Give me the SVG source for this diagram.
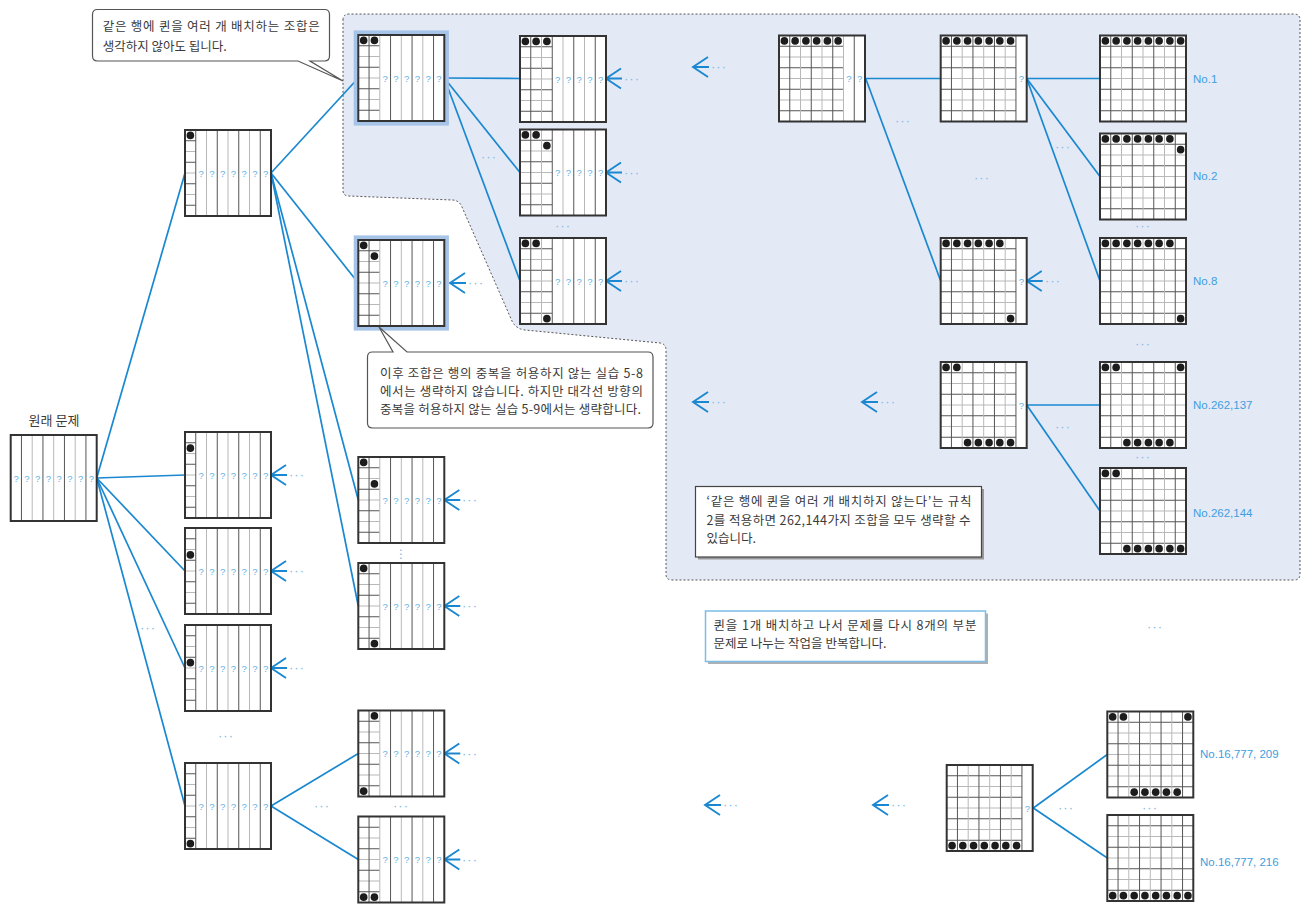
<svg xmlns="http://www.w3.org/2000/svg" width="1310" height="912" viewBox="0 0 1310 912">
<style>
.dk{stroke:#555;stroke-width:1;fill:none}
.lt{stroke:#b8b8b8;stroke-width:1;fill:none}
.bg{fill:#fff}
.fr{fill:none;stroke:#333;stroke-width:2}
.hl{fill:none;stroke:#a6c3e8;stroke-width:4.6}
.qn{fill:#1c1c1c}
.qm{font-family:"Liberation Sans",Arial,sans-serif;font-size:9.5px;fill:#62b0e4;text-anchor:middle}
.cn line{stroke:#1a88d0;stroke-width:1.7}
.ar{stroke:#1a88d0;stroke-width:1.9;fill:none}
.dt{font-family:"Liberation Sans",Arial,sans-serif;font-size:13px;fill:#80b9e4;text-anchor:middle;letter-spacing:1px}
.lb{font-family:"Liberation Sans",Arial,sans-serif;font-size:11.5px;fill:#3d9ee0}
.kt{font-family:"Noto Sans CJK KR","Noto Sans",sans-serif;font-size:12.5px;fill:#3a3a3a}
.co{fill:#fff;stroke:#555;stroke-width:1.2}
.region{fill:#e4e9f6;stroke:#555;stroke-width:1;stroke-dasharray:2 2}
</style>
<defs>
<rect id="bgr" class="bg" width="86" height="86"/>
<rect id="frr" class="fr" width="86" height="86"/>
<rect id="hlr" class="hl" x="-2.3" y="-2.3" width="90.6" height="90.6"/>
<g id="vl"><path class="dk" d="M10.75 0V86M32.25 0V86M53.75 0V86M75.25 0V86"/><path class="lt" d="M21.5 0V86M43 0V86M64.5 0V86"/></g>
<g id="h1"><path class="dk" d="M0 10.75H10.75M0 32.25H10.75M0 53.75H10.75M0 75.25H10.75"/><path class="lt" d="M0 21.5H10.75M0 43H10.75M0 64.5H10.75"/></g>
<g id="h2"><path class="dk" d="M0 10.75H21.5M0 32.25H21.5M0 53.75H21.5M0 75.25H21.5"/><path class="lt" d="M0 21.5H21.5M0 43H21.5M0 64.5H21.5"/></g>
<g id="h3"><path class="dk" d="M0 10.75H32.25M0 32.25H32.25M0 53.75H32.25M0 75.25H32.25"/><path class="lt" d="M0 21.5H32.25M0 43H32.25M0 64.5H32.25"/></g>
<g id="h6"><path class="dk" d="M0 10.75H64.5M0 32.25H64.5M0 53.75H64.5M0 75.25H64.5"/><path class="lt" d="M0 21.5H64.5M0 43H64.5M0 64.5H64.5"/></g>
<g id="h7"><path class="dk" d="M0 10.75H75.25M0 32.25H75.25M0 53.75H75.25M0 75.25H75.25"/><path class="lt" d="M0 21.5H75.25M0 43H75.25M0 64.5H75.25"/></g>
<g id="h8"><path class="dk" d="M0 10.75H86M0 32.25H86M0 53.75H86M0 75.25H86"/><path class="lt" d="M0 21.5H86M0 43H86M0 64.5H86"/></g>
<circle id="q" class="qn" cx="5.375" cy="5.375" r="3.8"/>
<path id="ar" class="ar" d="M15 -10L0 0L15 10M0 0H16"/>
</defs>

<rect width="1310" height="912" fill="#fff"/>

<path id="region" class="region" d="M343 20Q343 14 349 14H1294Q1300 14 1300 20V574Q1300 580 1294 580H672Q666 580 666 574V350Q666 344 660 343L525 330Q516 329 512 321L462 207Q459 200 452 200L349 196Q343 196 343 190Z"/>

<g id="connectors" class="cn">
<line x1="96.7" y1="478" x2="185" y2="173"/>
<line x1="96.7" y1="478" x2="185" y2="475"/>
<line x1="96.7" y1="478" x2="185" y2="571"/>
<line x1="96.7" y1="478" x2="185" y2="668"/>
<line x1="96.7" y1="478" x2="185" y2="806"/>
<line x1="271" y1="173" x2="358.3" y2="78"/>
<line x1="271" y1="173" x2="358.3" y2="283"/>
<line x1="271" y1="173" x2="358.3" y2="500"/>
<line x1="271" y1="173" x2="358.3" y2="606"/>
<line x1="444.3" y1="78" x2="520" y2="78.5"/>
<line x1="444.3" y1="78" x2="520" y2="172.5"/>
<line x1="444.3" y1="78" x2="520" y2="281"/>
<line x1="865.7" y1="78.5" x2="940.7" y2="78.5"/>
<line x1="865.7" y1="78.5" x2="940.7" y2="281"/>
<line x1="1026.7" y1="78.5" x2="1100" y2="78.5"/>
<line x1="1026.7" y1="78.5" x2="1100" y2="176.5"/>
<line x1="1026.7" y1="78.5" x2="1100" y2="281"/>
<line x1="1026.7" y1="405" x2="1100" y2="405"/>
<line x1="1026.7" y1="405" x2="1100" y2="511"/>
<line x1="271" y1="806" x2="358.3" y2="753.5"/>
<line x1="271" y1="806" x2="358.3" y2="859.5"/>
<line x1="1033.3" y1="808" x2="1107.3" y2="754.5"/>
<line x1="1033.3" y1="808" x2="1107.3" y2="858"/>
<use href="#ar" x="271" y="475"/><use href="#ar" x="271" y="571"/><use href="#ar" x="271" y="668"/>
<use href="#ar" x="450" y="283"/><use href="#ar" x="444.3" y="500"/><use href="#ar" x="444.3" y="606"/>
<use href="#ar" x="444.3" y="753.5"/><use href="#ar" x="444.3" y="859.5"/>
<use href="#ar" x="606" y="78.5"/><use href="#ar" x="606" y="172.5"/><use href="#ar" x="606" y="281"/>
<use href="#ar" x="1026.7" y="281"/>
<use href="#ar" x="693" y="67"/><use href="#ar" x="693" y="402"/><use href="#ar" x="862" y="402"/>
<use href="#ar" x="705" y="805"/><use href="#ar" x="873" y="805"/>
</g>

<g id="dots">
<text class="dt" x="297" y="479">···</text><text class="dt" x="297" y="575">···</text><text class="dt" x="297" y="672">···</text>
<text class="dt" x="476" y="287">···</text><text class="dt" x="470" y="504">···</text><text class="dt" x="470" y="610">···</text>
<text class="dt" x="470" y="757.5">···</text><text class="dt" x="470" y="863.5">···</text>
<text class="dt" x="632" y="82.5">···</text><text class="dt" x="632" y="176.5">···</text><text class="dt" x="632" y="285">···</text>
<text class="dt" x="1053" y="285">···</text>
<text class="dt" x="719" y="71">···</text><text class="dt" x="719" y="406">···</text><text class="dt" x="888" y="406">···</text>
<text class="dt" x="731" y="809">···</text><text class="dt" x="899" y="809">···</text>
<text class="dt" x="489" y="161">···</text><text class="dt" x="563" y="230">···</text>
<text class="dt" x="903" y="125">···</text><text class="dt" x="982" y="182">···</text><text class="dt" x="1063" y="151">···</text>
<text class="dt" x="1143" y="230">···</text><text class="dt" x="1143" y="348">···</text><text class="dt" x="1063" y="431">···</text>
<text class="dt" x="1143" y="461">···</text><text class="dt" x="1155" y="631">···</text><text class="dt" x="148" y="632">···</text>
<text class="dt" x="226" y="740">···</text><text class="dt" x="322" y="810">···</text><text class="dt" x="401" y="810">···</text>
<text class="dt" x="1066" y="812">···</text><text class="dt" x="1150" y="812">···</text>
<text x="401" y="558" style="font-family:'DejaVu Sans',sans-serif;font-size:12px;fill:#80b9e4;text-anchor:middle">⋮</text>
</g>

<g id="orig" transform="translate(10.7,435)"><use href="#bgr"/><use href="#vl"/><text class="qm" x="5.375 16.125 26.875 37.625 48.375 59.125 69.875 80.625" y="46.5">????????</text><use href="#frr"/></g>
<text class="kt" x="54" y="425" style="font-size:13px;text-anchor:middle">원래 문제</text>

<g id="b1" transform="translate(185,130)"><use href="#bgr"/><use href="#h1"/><use href="#vl"/><use href="#q"/><text class="qm" x="16.125 26.875 37.625 48.375 59.125 69.875 80.625" y="46.5">???????</text><use href="#frr"/></g>
<g id="b2" transform="translate(185,432)"><use href="#bgr"/><use href="#h1"/><use href="#vl"/><use href="#q" y="10.75"/><text class="qm" x="16.125 26.875 37.625 48.375 59.125 69.875 80.625" y="46.5">???????</text><use href="#frr"/></g>
<g id="b3" transform="translate(185,528)"><use href="#bgr"/><use href="#h1"/><use href="#vl"/><use href="#q" y="21.5"/><text class="qm" x="16.125 26.875 37.625 48.375 59.125 69.875 80.625" y="46.5">???????</text><use href="#frr"/></g>
<g id="b4" transform="translate(185,625)"><use href="#bgr"/><use href="#h1"/><use href="#vl"/><use href="#q" y="32.25"/><text class="qm" x="16.125 26.875 37.625 48.375 59.125 69.875 80.625" y="46.5">???????</text><use href="#frr"/></g>
<g id="b5" transform="translate(185,763)"><use href="#bgr"/><use href="#h1"/><use href="#vl"/><use href="#q" y="75.25"/><text class="qm" x="16.125 26.875 37.625 48.375 59.125 69.875 80.625" y="46.5">???????</text><use href="#frr"/></g>

<g id="c1" transform="translate(358.3,35)"><use href="#hlr"/><use href="#bgr"/><use href="#h2"/><use href="#vl"/><use href="#q"/><use href="#q" x="10.75"/><text class="qm" x="26.875 37.625 48.375 59.125 69.875 80.625" y="46.5">??????</text><use href="#frr"/></g>
<g id="c2" transform="translate(358.3,240)"><use href="#hlr"/><use href="#bgr"/><use href="#h2"/><use href="#vl"/><use href="#q"/><use href="#q" x="10.75" y="10.75"/><text class="qm" x="26.875 37.625 48.375 59.125 69.875 80.625" y="46.5">??????</text><use href="#frr"/></g>
<g id="c3" transform="translate(358.3,457)"><use href="#bgr"/><use href="#h2"/><use href="#vl"/><use href="#q"/><use href="#q" x="10.75" y="21.5"/><text class="qm" x="26.875 37.625 48.375 59.125 69.875 80.625" y="46.5">??????</text><use href="#frr"/></g>
<g id="c4" transform="translate(358.3,563)"><use href="#bgr"/><use href="#h2"/><use href="#vl"/><use href="#q"/><use href="#q" x="10.75" y="75.25"/><text class="qm" x="26.875 37.625 48.375 59.125 69.875 80.625" y="46.5">??????</text><use href="#frr"/></g>
<g id="d1" transform="translate(358.3,710.5)"><use href="#bgr"/><use href="#h2"/><use href="#vl"/><use href="#q" y="75.25"/><use href="#q" x="10.75"/><text class="qm" x="26.875 37.625 48.375 59.125 69.875 80.625" y="46.5">??????</text><use href="#frr"/></g>
<g id="d2" transform="translate(358.3,816.5)"><use href="#bgr"/><use href="#h2"/><use href="#vl"/><use href="#q" y="75.25"/><use href="#q" x="10.75" y="75.25"/><text class="qm" x="26.875 37.625 48.375 59.125 69.875 80.625" y="46.5">??????</text><use href="#frr"/></g>

<g id="e1" transform="translate(520,36)"><use href="#bgr"/><use href="#h3"/><use href="#vl"/><use href="#q"/><use href="#q" x="10.75"/><use href="#q" x="21.5"/><text class="qm" x="37.625 48.375 59.125 69.875 80.625" y="46.5">?????</text><use href="#frr"/></g>
<g id="e2" transform="translate(520,129.5)"><use href="#bgr"/><use href="#h3"/><use href="#vl"/><use href="#q"/><use href="#q" x="10.75"/><use href="#q" x="21.5" y="10.75"/><text class="qm" x="37.625 48.375 59.125 69.875 80.625" y="46.5">?????</text><use href="#frr"/></g>
<g id="e3" transform="translate(520,238)"><use href="#bgr"/><use href="#h3"/><use href="#vl"/><use href="#q"/><use href="#q" x="10.75"/><use href="#q" x="21.5" y="75.25"/><text class="qm" x="37.625 48.375 59.125 69.875 80.625" y="46.5">?????</text><use href="#frr"/></g>

<g id="f1" transform="translate(779,35.5)"><use href="#bgr"/><use href="#h6"/><use href="#vl"/><use href="#q"/><use href="#q" x="10.75"/><use href="#q" x="21.5"/><use href="#q" x="32.25"/><use href="#q" x="43"/><use href="#q" x="53.75"/><text class="qm" x="69.875 80.625" y="46.5">??</text><use href="#frr"/></g>

<g id="g1" transform="translate(940.7,35.5)"><use href="#bgr"/><use href="#h7"/><use href="#vl"/><use href="#q"/><use href="#q" x="10.75"/><use href="#q" x="21.5"/><use href="#q" x="32.25"/><use href="#q" x="43"/><use href="#q" x="53.75"/><use href="#q" x="64.5"/><text class="qm" x="80.625" y="46.5">?</text><use href="#frr"/></g>
<g id="g2" transform="translate(940.7,238)"><use href="#bgr"/><use href="#h7"/><use href="#vl"/><use href="#q"/><use href="#q" x="10.75"/><use href="#q" x="21.5"/><use href="#q" x="32.25"/><use href="#q" x="43"/><use href="#q" x="53.75"/><use href="#q" x="64.5" y="75.25"/><text class="qm" x="80.625" y="46.5">?</text><use href="#frr"/></g>
<g id="g3" transform="translate(940.7,362)"><use href="#bgr"/><use href="#h7"/><use href="#vl"/><use href="#q"/><use href="#q" x="10.75"/><use href="#q" x="21.5" y="75.25"/><use href="#q" x="32.25" y="75.25"/><use href="#q" x="43" y="75.25"/><use href="#q" x="53.75" y="75.25"/><use href="#q" x="64.5" y="75.25"/><text class="qm" x="80.625" y="46.5">?</text><use href="#frr"/></g>

<g id="h1b" transform="translate(1100,35.5)"><use href="#bgr"/><use href="#h8"/><use href="#vl"/><use href="#q"/><use href="#q" x="10.75"/><use href="#q" x="21.5"/><use href="#q" x="32.25"/><use href="#q" x="43"/><use href="#q" x="53.75"/><use href="#q" x="64.5"/><use href="#q" x="75.25"/><use href="#frr"/></g>
<g id="h2b" transform="translate(1100,133.5)"><use href="#bgr"/><use href="#h8"/><use href="#vl"/><use href="#q"/><use href="#q" x="10.75"/><use href="#q" x="21.5"/><use href="#q" x="32.25"/><use href="#q" x="43"/><use href="#q" x="53.75"/><use href="#q" x="64.5"/><use href="#q" x="75.25" y="10.75"/><use href="#frr"/></g>
<g id="h3b" transform="translate(1100,238)"><use href="#bgr"/><use href="#h8"/><use href="#vl"/><use href="#q"/><use href="#q" x="10.75"/><use href="#q" x="21.5"/><use href="#q" x="32.25"/><use href="#q" x="43"/><use href="#q" x="53.75"/><use href="#q" x="64.5"/><use href="#q" x="75.25" y="75.25"/><use href="#frr"/></g>
<g id="h4b" transform="translate(1100,362)"><use href="#bgr"/><use href="#h8"/><use href="#vl"/><use href="#q"/><use href="#q" x="10.75"/><use href="#q" x="75.25"/><use href="#q" x="21.5" y="75.25"/><use href="#q" x="32.25" y="75.25"/><use href="#q" x="43" y="75.25"/><use href="#q" x="53.75" y="75.25"/><use href="#q" x="64.5" y="75.25"/><use href="#frr"/></g>
<g id="h5b" transform="translate(1100,468)"><use href="#bgr"/><use href="#h8"/><use href="#vl"/><use href="#q"/><use href="#q" x="10.75"/><use href="#q" x="21.5" y="75.25"/><use href="#q" x="32.25" y="75.25"/><use href="#q" x="43" y="75.25"/><use href="#q" x="53.75" y="75.25"/><use href="#q" x="64.5" y="75.25"/><use href="#q" x="75.25" y="75.25"/><use href="#frr"/></g>

<g id="i1" transform="translate(946.7,765)"><use href="#bgr"/><use href="#h7"/><use href="#vl"/><use href="#q" y="75.25"/><use href="#q" x="10.75" y="75.25"/><use href="#q" x="21.5" y="75.25"/><use href="#q" x="32.25" y="75.25"/><use href="#q" x="43" y="75.25"/><use href="#q" x="53.75" y="75.25"/><use href="#q" x="64.5" y="75.25"/><text class="qm" x="80.625" y="46.5">?</text><use href="#frr"/></g>
<g id="j1" transform="translate(1107.3,711.5)"><use href="#bgr"/><use href="#h8"/><use href="#vl"/><use href="#q"/><use href="#q" x="10.75"/><use href="#q" x="75.25"/><use href="#q" x="21.5" y="75.25"/><use href="#q" x="32.25" y="75.25"/><use href="#q" x="43" y="75.25"/><use href="#q" x="53.75" y="75.25"/><use href="#q" x="64.5" y="75.25"/><use href="#frr"/></g>
<g id="j2" transform="translate(1107.3,815)"><use href="#bgr"/><use href="#h8"/><use href="#vl"/><use href="#q" y="75.25"/><use href="#q" x="10.75" y="75.25"/><use href="#q" x="21.5" y="75.25"/><use href="#q" x="32.25" y="75.25"/><use href="#q" x="43" y="75.25"/><use href="#q" x="53.75" y="75.25"/><use href="#q" x="64.5" y="75.25"/><use href="#q" x="75.25" y="75.25"/><use href="#frr"/></g>

<g id="labels">
<text class="lb" x="1193" y="82.5">No.1</text>
<text class="lb" x="1193" y="179.5">No.2</text>
<text class="lb" x="1193" y="285">No.8</text>
<text class="lb" x="1193" y="409">No.262,137</text>
<text class="lb" x="1193" y="516.5">No.262,144</text>
<text class="lb" x="1200" y="758">No.16,777, 209</text>
<text class="lb" x="1200" y="866">No.16,777, 216</text>
</g>

<g id="callout1">
<path class="co" d="M97.5 9.5H324.5Q329.5 9.5 329.5 14.5V56Q329.5 61 324.5 61H310L343 81L298 61H97.5Q92.5 61 92.5 56V14.5Q92.5 9.5 97.5 9.5Z"/>
<text class="kt" x="102.7" y="31" textLength="217" lengthAdjust="spacing">같은 행에 퀸을 여러 개 배치하는 조합은</text>
<text class="kt" x="102.7" y="51">생각하지 않아도 됩니다.</text>
</g>

<g id="callout2">
<path class="co" d="M372.5 352H393L379 327L407 352H648Q653 352 653 357V423Q653 428 648 428H372.5Q367.5 428 367.5 423V357Q367.5 352 372.5 352Z"/>
<text class="kt" x="380" y="377.5" textLength="263" lengthAdjust="spacing">이후 조합은 행의 중복을 허용하지 않는 실습 5-8</text>
<text class="kt" x="380" y="396" textLength="263" lengthAdjust="spacing">에서는 생략하지 않습니다. 하지만 대각선 방향의</text>
<text class="kt" x="380" y="414" textLength="261" lengthAdjust="spacing">중복을 허용하지 않는 실습 5-9에서는 생략합니다.</text>
</g>

<g id="note1">
<rect x="698" y="489" width="286" height="70.5" fill="#9a9a9a"/>
<rect x="695.5" y="486.5" width="286" height="70.5" fill="#fff" stroke="#444" stroke-width="1.2"/>
<text class="kt" x="706.5" y="506" textLength="265" lengthAdjust="spacing">‘같은 행에 퀸을 여러 개 배치하지 않는다’는 규칙</text>
<text class="kt" x="706.5" y="524.5" textLength="264" lengthAdjust="spacing">2를 적용하면 262,144가지 조합을 모두 생략할 수</text>
<text class="kt" x="706.5" y="543">있습니다.</text>
</g>

<g id="note2">
<rect x="708" y="613.5" width="280" height="50.5" fill="#b0b0b0"/>
<rect x="705.5" y="611" width="280" height="50.5" fill="#fff" stroke="#7cbce8" stroke-width="1.5"/>
<text class="kt" x="713.5" y="629.5" textLength="263" lengthAdjust="spacing">퀸을 1개 배치하고 나서 문제를 다시 8개의 부분</text>
<text class="kt" x="713.5" y="648">문제로 나누는 작업을 반복합니다.</text>
</g>
</svg>
